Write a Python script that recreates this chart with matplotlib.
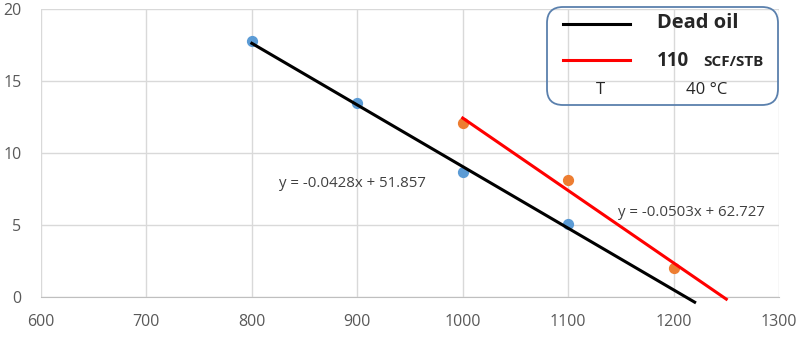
import matplotlib
matplotlib.use("Agg")
import matplotlib.pyplot as plt
from matplotlib.patches import FancyBboxPatch
from matplotlib.lines import Line2D
from matplotlib.transforms import IdentityTransform

# data
dead_x = [800, 900, 1000, 1100]
dead_y = [17.8, 13.5, 8.7, 5.1]
gas_x = [1000, 1100, 1200]
gas_y = [12.1, 8.1, 2.0]
dead_fit = (-0.0428, 51.857)
gas_fit = (-0.0503, 62.727)
dead_line_x = [800, 1220]
gas_line_x = [1000, 1250]
x_ticks = [600, 700, 800, 900, 1000, 1100, 1200, 1300]
y_ticks = [0, 5, 10, 15, 20]

plt.rcParams['font.family'] = ['Open Sans', 'DejaVu Sans']
W, H = 799, 339
fig = plt.figure(figsize=(W/100, H/100), dpi=100)
ax = fig.add_axes([41/W, 1-297/H, (779-41)/W, (297-9)/H])
ax.set_xlim(600, 1300)
ax.set_ylim(0, 20)
ax.set_xticks(x_ticks)
ax.set_yticks(y_ticks)
ax.grid(True, color='#d9d9d9', linewidth=1)
ax.set_axisbelow(True)
for s in ['top', 'right', 'left']:
    ax.spines[s].set_visible(False)
ax.spines['bottom'].set_color('#bfbfbf')
ax.tick_params(length=0, colors='#595959', labelsize=11.5)
ax.tick_params(axis='y', pad=14)
ax.tick_params(axis='x', pad=12)

ax.scatter(dead_x, dead_y, s=50, color='#5B9BD5', zorder=3)
ax.scatter(gas_x, gas_y, s=50, color='#ED7D31', zorder=3)

def line(xs, fit):
    return [fit[0]*x + fit[1] for x in xs]

ax.plot(dead_line_x, line(dead_line_x, dead_fit), color='black', lw=2.2, clip_on=False, zorder=4)
ax.plot(gas_line_x, line(gas_line_x, gas_fit), color='#ff0000', lw=2.2, clip_on=False, zorder=4)

ax.text(826, 7.9, 'y = -0.0428x + 51.857', fontsize=10.8, color='#404040', va='center', ha='left')
ax.text(1147, 5.9, 'y = -0.0503x + 62.727', fontsize=10.8, color='#404040', va='center', ha='left')

T = IdentityTransform()
def py(p): return H - p

box = FancyBboxPatch((547, py(105)), 778 - 547, 105 - 7,
                     boxstyle='round,pad=0,rounding_size=16', transform=T,
                     facecolor='none', edgecolor='#5a80ad', linewidth=1.3, zorder=10)
fig.patches.append(box)
fig.lines.append(Line2D([563, 630], [py(24), py(24)], color='black', lw=2.2, transform=T, zorder=11))
fig.lines.append(Line2D([563, 630], [py(60), py(60)], color='#ff0000', lw=2.2, transform=T, zorder=11))
fig.text(657/W, 1-23/H, 'Dead oil', fontsize=14.5, fontweight='bold', color='#262626', va='center', ha='left', zorder=12)
fig.text(657/W, 1-61/H, '110', fontsize=13.5, fontweight='bold', color='#262626', va='center', ha='left', zorder=12)
fig.text(703/W, 1-62/H, 'SCF/STB', fontsize=11, fontweight='bold', color='#262626', va='center', ha='left', zorder=12)
fig.text(600/W, 1-90/H, 'T', fontsize=12, color='#262626', va='center', ha='center', zorder=12)
fig.text(707/W, 1-90/H, '40 °C', fontsize=12, color='#262626', va='center', ha='center', zorder=12)

fig.savefig('out.png', dpi=100)
